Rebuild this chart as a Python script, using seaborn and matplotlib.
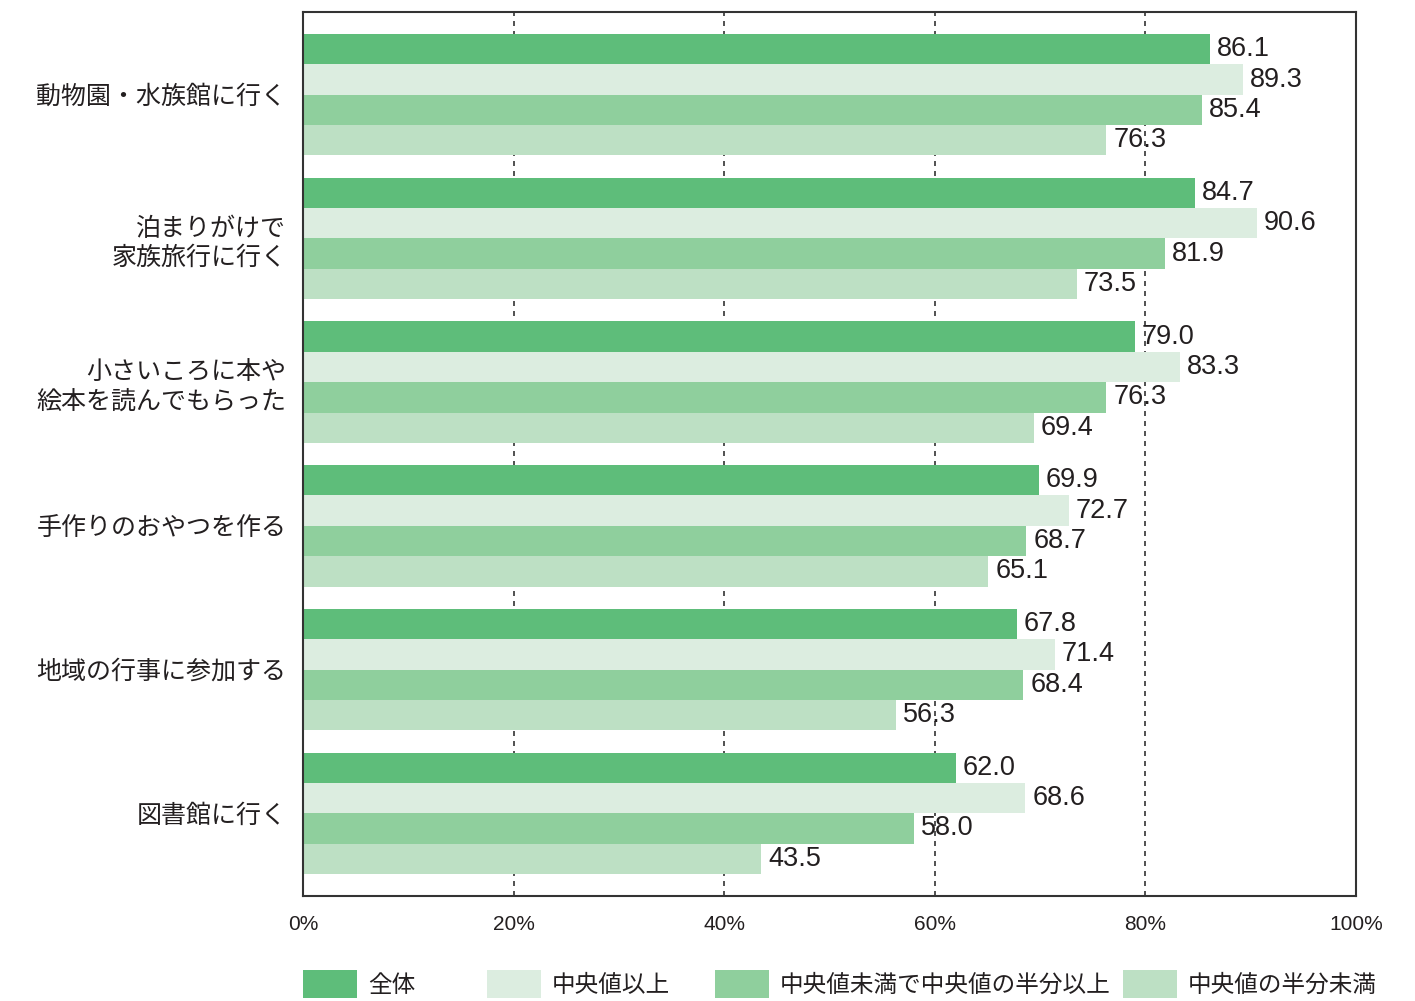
import pandas as pd
import matplotlib
matplotlib.use("Agg")
import matplotlib.pyplot as plt
from matplotlib.patches import Patch
import seaborn as sns

# --- DATA ---
categories = [
    "動物園・水族館に行く",
    "泊まりがけで\n家族旅行に行く",
    "小さいころに本や\n絵本を読んでもらった",
    "手作りのおやつを作る",
    "地域の行事に参加する",
    "図書館に行く",
]
groups = ["全体", "中央値以上", "中央値未満で中央値の半分以上", "中央値の半分未満"]
zentai = [86.1, 84.7, 79.0, 69.9, 67.8, 62.0]
ijou = [89.3, 90.6, 83.3, 72.7, 71.4, 68.6]
miman_hanbun_ijou = [85.4, 81.9, 76.3, 68.7, 68.4, 58.0]
hanbun_miman = [76.3, 73.5, 69.4, 65.1, 56.3, 43.5]
x_ticks = [0, 20, 40, 60, 80, 100]
x_ticklabels = ["0%", "20%", "40%", "60%", "80%", "100%"]

colors = ["#5ebd7a", "#dcede0", "#8fcf9d", "#bde0c4"]


def build_frame():
    rows = []
    for g, vals in zip(groups, [zentai, ijou, miman_hanbun_ijou, hanbun_miman]):
        for c, v in zip(categories, vals):
            rows.append({"item": c, "group": g, "value": v})
    return pd.DataFrame(rows)


def main():
    sns.set_style("white")
    plt.rcParams["font.family"] = ["Liberation Sans", "Noto Sans CJK JP", "DejaVu Sans"]

    df = build_frame()
    fig = plt.figure(figsize=(14.15, 10.01), dpi=100)
    ax = fig.add_axes([0.2141, 0.1049, 0.7442, 0.8831])

    sns.barplot(data=df, y="item", x="value", hue="group", order=categories,
                hue_order=groups, palette=colors, orient="h", width=0.845,
                linewidth=0, saturation=1, legend=False, ax=ax)

    # value labels at bar ends
    for cont in ax.containers:
        ax.bar_label(cont, fmt="{:.1f}", padding=5, fontsize=19.5, color="#231f20")

    ax.set_xlim(0, 100)
    ax.set_ylim(len(categories) - 1 + 0.576, -0.576)
    ax.set_xticks(x_ticks)
    ax.set_xticklabels(x_ticklabels, fontsize=15, color="#231f20")
    ax.tick_params(axis="x", length=0, pad=14)
    ax.tick_params(axis="y", length=0, pad=12, labelsize=18, labelcolor="#231f20")
    for lab in ax.get_yticklabels():
        lab.set_linespacing(1.25)
    ax.set_xlabel("")
    ax.set_ylabel("")

    # dashed vertical grid behind the bars
    ax.set_axisbelow(True)
    ax.xaxis.grid(True, color="#333333", linestyle=(0, (3, 3)), linewidth=1.2)
    ax.yaxis.grid(False)
    for s in ax.spines.values():
        s.set_visible(True)
        s.set_color("#333333")
        s.set_linewidth(1.5)

    # legend, one entry per block along the bottom
    legend_x = [303, 487, 715, 1123]
    for g, c, xp in zip(groups, colors, legend_x):
        leg = fig.legend(handles=[Patch(facecolor=c, edgecolor="none", label=g)],
                         loc="center left", bbox_to_anchor=(xp / 1415, 0.017),
                         frameon=False, fontsize=17, handlelength=2.3,
                         handleheight=1.5, handletextpad=0.45,
                         borderpad=0, borderaxespad=0)
        for t in leg.get_texts():
            t.set_color("#231f20")

    fig.savefig("out.png", dpi=100)


if __name__ == "__main__":
    main()
